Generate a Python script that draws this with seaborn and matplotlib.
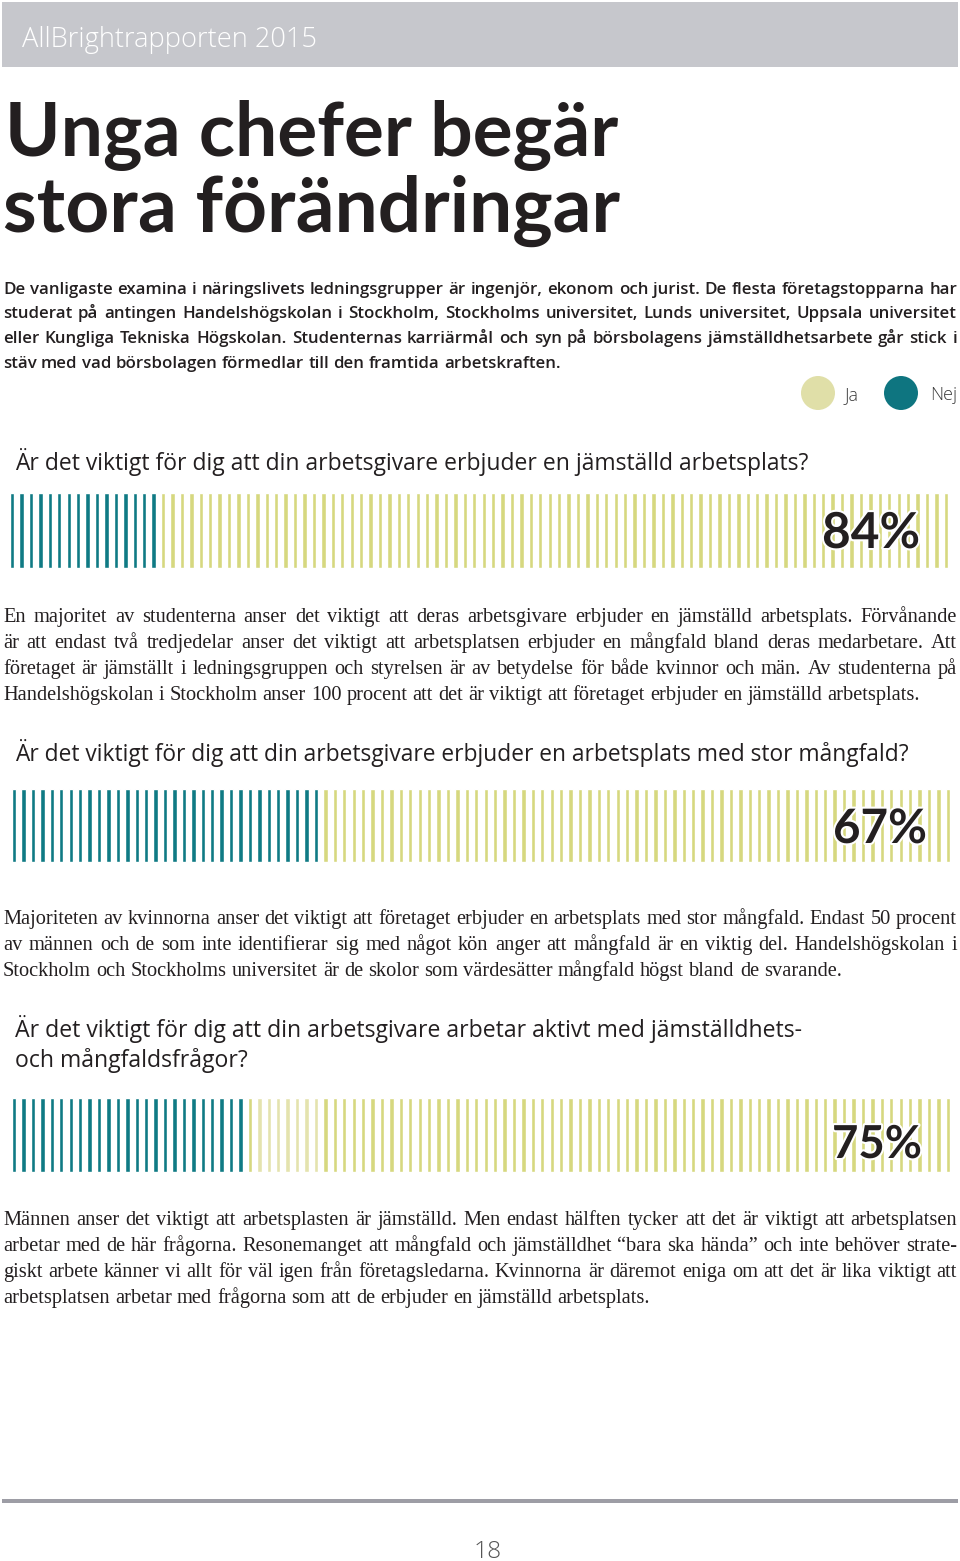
import numpy as np
import pandas as pd
import seaborn as sns
import matplotlib.pyplot as plt
from matplotlib.patches import Rectangle, Ellipse
import matplotlib.patheffects as pe

# Data
fragor = [
    "Är det viktigt för dig att din arbetsgivare erbjuder en jämställd arbetsplats?",
    "Är det viktigt för dig att din arbetsgivare erbjuder en arbetsplats med stor mångfald?",
    "Är det viktigt för dig att din arbetsgivare arbetar aktivt med jämställdhets-\noch mångfaldsfrågor?",
]
ja_procent = [84, 67, 75]
antal_streck = 100
svar = ["Ja", "Nej"]

rubrik = ["Unga chefer begär", "stora förändringar"]
ingress = [
    "De vanligaste examina i näringslivets ledningsgrupper är ingenjör, ekonom och jurist. De flesta företagstopparna har",
    "studerat på antingen Handelshögskolan i Stockholm, Stockholms universitet, Lunds universitet, Uppsala universitet",
    "eller Kungliga Tekniska Högskolan. Studenternas karriärmål och syn på börsbolagens jämställdhetsarbete går stick i",
    "stäv med vad börsbolagen förmedlar till den framtida arbetskraften.",
]
brodtext = [
    [
        "En majoritet av studenterna anser det viktigt att deras arbetsgivare erbjuder en jämställd arbetsplats. Förvånande",
        "är att endast två tredjedelar anser det viktigt att arbetsplatsen erbjuder en mångfald bland deras medarbetare. Att",
        "företaget är jämställt i ledningsgruppen och styrelsen är av betydelse för både kvinnor och män. Av studenterna på",
        "Handelshögskolan i Stockholm anser 100 procent att det är viktigt att företaget erbjuder en jämställd arbetsplats.",
    ],
    [
        "Majoriteten av kvinnorna anser det viktigt att företaget erbjuder en arbetsplats med stor mångfald. Endast 50 procent",
        "av männen och de som inte identifierar sig med något kön anger att mångfald är en viktig del. Handelshögskolan i",
        "Stockholm och Stockholms universitet är de skolor som värdesätter mångfald högst bland de svarande.",
    ],
    [
        "Männen anser det viktigt att arbetsplasten är jämställd. Men endast hälften tycker att det är viktigt att arbetsplatsen",
        "arbetar med de här frågorna. Resonemanget att mångfald och jämställdhet “bara ska hända” och inte behöver strate-",
        "giskt arbete känner vi allt för väl igen från företagsledarna. Kvinnorna är däremot eniga om att det är lika viktigt att",
        "arbetsplatsen arbetar med frågorna som att de erbjuder en jämställd arbetsplats.",
    ],
]

# Style
W, H = 960, 1561
TEAL = "#0F7A84"
GUL = "#D6D87F"
LJUS = "#E4E3AE"
TEXT = "#231F20"
SANS = ["Open Sans", "DejaVu Sans"]
SERIF = ["Liberation Serif", "DejaVu Serif"]

sns.set_theme(style="white")
plt.rcParams["font.family"] = SANS

fig = plt.figure(figsize=(W / 100, H / 100), dpi=100)
r = fig.canvas.get_renderer()


def fx(x):
    return x / W


def fy(y):
    return 1 - y / H


def fit_text(s, x, y, width, ha="left", **kw):
    t = fig.text(fx(x), fy(y), s, va="baseline", ha=ha, **kw)
    w = t.get_window_extent(r).width
    t.set_fontsize(t.get_fontsize() * width / w)
    return t


def justify(line, y, x0=3, x1=957, last=False, **kw):
    words = line.split(" ")
    ts = [fig.text(0, fy(y), w, va="baseline", **kw) for w in words]
    widths = [t.get_window_extent(r).width for t in ts]
    a = fig.text(0, 0, "x x", **kw)
    b = fig.text(0, 0, "xx", **kw)
    space = a.get_window_extent(r).width - b.get_window_extent(r).width
    a.remove()
    b.remove()
    gap = space if last else (x1 - x0 - sum(widths)) / max(len(words) - 1, 1)
    x = x0
    for t, w in zip(ts, widths):
        t.set_x(fx(x))
        x += w + gap


# header band
fig.add_artist(Rectangle((fx(2), fy(67)), fx(956), 65 / H, transform=fig.transFigure,
                         color="#C6C7CC", lw=0))
fit_text("AllBrightrapporten 2015", 22, 47, 296, color="white", fontsize=19,
         fontweight="light")

# title
fit_text(rubrik[0], 5, 156, 613, color=TEXT, fontsize=56, fontweight="bold", family="Lato")
fit_text(rubrik[1], 3, 232, 617, color=TEXT, fontsize=56, fontweight="bold", family="Lato")

# intro
for i, line in enumerate(ingress):
    justify(line, 294 + i * 24.5, last=(i == len(ingress) - 1), fontsize=12.2,
            fontweight="semibold", color=TEXT, family=SANS)

# legend
for cx, lab, c, tx in [(818, "Ja", "#E0DFA8", 845), (901, "Nej", "#0E7580", 930)]:
    fig.add_artist(Ellipse((fx(cx), fy(393)), 34 / W, 34 / H, transform=fig.transFigure,
                           color=c, lw=0))
    fig.text(fx(tx), fy(400), lab, fontsize=13, color="#3A3A3A", fontweight="light",
             va="baseline")

# question blocks
bar_box = [(10, 493, 948, 568), (12, 789, 950, 862), (12, 1098, 950, 1172)]
q_y = [470, 761, 1037]
q_w = [793, 897, 787]
pct_pos = [(822, 548, 98), (833, 843, 94), (832, 1158, 90)]
txt_y = [622, 924, 1225]
ljusa = [[], [], list(range(26, 33))]  # a few faded stripes in the last bar

for k in range(3):
    # question
    lines = fragor[k].split("\n")
    t = fit_text(lines[0], 15, q_y[k], q_w[k], color=TEXT, fontsize=17)
    for j, extra in enumerate(lines[1:]):
        fig.text(fx(15), fy(q_y[k] + 30 * (j + 1)), extra, va="baseline",
                 color=TEXT, fontsize=t.get_fontsize())

    # striped bar
    nej = antal_streck - ja_procent[k]
    df = pd.DataFrame({"streck": np.arange(antal_streck)})
    df["svar"] = np.where(df["streck"] < nej, "Nej", "Ja")
    df.loc[df["streck"].isin(ljusa[k]), "svar"] = "Ja_ljus"
    df["v"] = 1.0
    x0, top, x1, bot = bar_box[k]
    ax = fig.add_axes([fx(x0), fy(bot), (x1 - x0) / W, (bot - top) / H])
    sns.barplot(data=df, x="streck", y="v", hue="svar", dodge=False, width=0.46,
                palette={"Nej": TEAL, "Ja": GUL, "Ja_ljus": LJUS}, legend=False,
                saturation=1, ax=ax)
    ax.set_xlim(-0.23, antal_streck - 1 + 0.23)
    ax.set_ylim(0, 1)
    ax.axis("off")

    # percent label
    px, py, pw = pct_pos[k]
    t = fit_text(f"{ja_procent[k]}%", px, py, pw, color=TEXT, fontsize=36,
                 fontweight="bold", family="Lato")
    t.set_path_effects([pe.withStroke(linewidth=3, foreground="white")])

    # body text
    for i, line in enumerate(brodtext[k]):
        justify(line, txt_y[k] + i * 26, last=(i == len(brodtext[k]) - 1),
                fontsize=14.7, color=TEXT, family=SERIF)

# footer
fig.add_artist(Rectangle((fx(2), fy(1503)), fx(956), 4 / H, transform=fig.transFigure,
                         color="#9D9DA5", lw=0))
fit_text("18", 488, 1558, 28, ha="center", color="#555555", fontsize=20,
         fontweight="light")

fig.savefig("out.png", dpi=100)
